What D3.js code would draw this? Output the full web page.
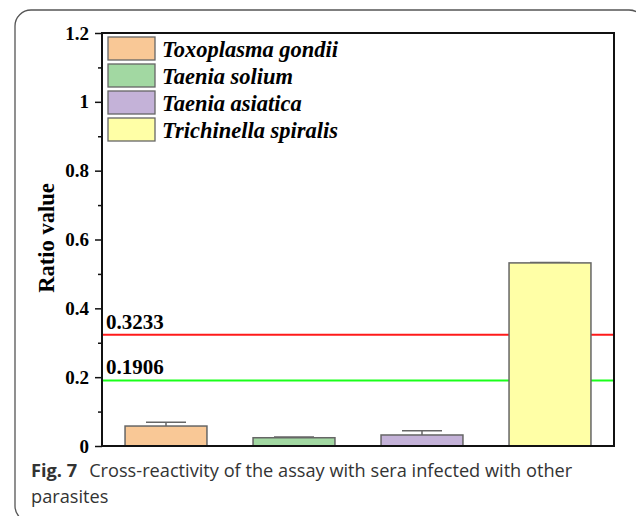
<!DOCTYPE html>
<html><head><meta charset="utf-8">
<script src="https://cdn.jsdelivr.net/npm/d3@7"></script>
<style>html,body{margin:0;padding:0;background:#fff;}</style>
</head><body>
<svg id="chart" width="636" height="516"></svg>
<script>
const categories = ["Toxoplasma gondii", "Taenia solium", "Taenia asiatica", "Trichinella spiralis"];
const values = [0.058, 0.024, 0.032, 0.532];
const errors = [0.011, 0.002, 0.012, 0.001];
const colors = ["#F9C896", "#A2D8A2", "#C4B2D8", "#FFFFA6"];
const yTicks = [0, 0.2, 0.4, 0.6, 0.8, 1, 1.2];
const yTickLabels = ["0", "0.2", "0.4", "0.6", "0.8", "1", "1.2"];
const minorTicks = [0.1, 0.3, 0.5, 0.7, 0.9, 1.1];
const cutoffs = [0.3233, 0.1906];
const cutoffLabels = ["0.3233", "0.1906"];
const cutoffColors = ["#ff1a1a", "#1aff1a"];

const svg = d3.select("#chart");
const L = 102, R = 614, T = 33, B = 446;
const serif = "Liberation Serif, Times New Roman, serif";

// outer frame
svg.append("rect").attr("x", 15).attr("y", 10).attr("width", 630).attr("height", 512)
  .attr("rx", 16).attr("ry", 16).attr("fill", "none").attr("stroke", "#555").attr("stroke-width", 1.3);

const x = d3.scaleBand().domain(categories).range([L, R]).paddingInner(0.36).paddingOuter(0.18);
const y = d3.scaleLinear().domain([0, 1.2]).range([B, T]);

// cutoff lines
svg.selectAll(".cut").data(cutoffs).enter().append("line")
  .attr("x1", L).attr("x2", R).attr("y1", d => y(d)).attr("y2", d => y(d))
  .attr("stroke", (d, i) => cutoffColors[i]).attr("stroke-width", 2);
svg.selectAll(".cutlab").data(cutoffs).enter().append("text")
  .attr("x", 106).attr("y", d => y(d) - 6)
  .attr("font-family", serif).attr("font-weight", "bold")
  .attr("font-size", 21).attr("fill", "#000").text((d, i) => cutoffLabels[i]);

// error bars
const eg = svg.append("g").attr("stroke", "#666").attr("stroke-width", 1.5);
categories.forEach((c, i) => {
  const cx = x(c) + x.bandwidth() / 2;
  eg.append("line").attr("x1", cx).attr("x2", cx).attr("y1", y(values[i])).attr("y2", y(values[i] + errors[i]));
  eg.append("line").attr("x1", cx - 20).attr("x2", cx + 20).attr("y1", y(values[i] + errors[i])).attr("y2", y(values[i] + errors[i]));
});

// bars
svg.selectAll(".bar").data(values).enter().append("rect")
  .attr("x", (d, i) => x(categories[i])).attr("width", x.bandwidth())
  .attr("y", d => y(d)).attr("height", d => B - y(d))
  .attr("fill", (d, i) => colors[i]).attr("stroke", "#666").attr("stroke-width", 1.5);

// plot frame
svg.append("rect").attr("x", L).attr("y", T).attr("width", R - L).attr("height", B - T)
  .attr("fill", "none").attr("stroke", "#111").attr("stroke-width", 2);

// y axis
const yAxis = d3.axisLeft(y).tickValues(yTicks).tickFormat((d, i) => yTickLabels[i]).tickSize(7).tickPadding(6);
const ga = svg.append("g").attr("transform", `translate(${L},0)`).call(yAxis);
ga.select(".domain").remove();
ga.selectAll("line").attr("stroke", "#111").attr("stroke-width", 1.5);
ga.selectAll("text").attr("font-family", serif)
  .attr("font-weight", "bold").attr("font-size", 19).attr("fill", "#000");
const gm = svg.append("g").attr("transform", `translate(${L},0)`)
  .call(d3.axisLeft(y).tickValues(minorTicks).tickFormat("").tickSize(4));
gm.select(".domain").remove();
gm.selectAll("line").attr("stroke", "#111").attr("stroke-width", 1.5);

// y title
svg.append("text").attr("transform", "translate(54,238) rotate(-90)").attr("text-anchor", "middle")
  .attr("font-family", serif).attr("font-weight", "bold")
  .attr("font-size", 22.5).attr("fill", "#000").text("Ratio value");

// legend
const lg = svg.append("g");
categories.forEach((c, i) => {
  const yy = 37 + i * 27;
  lg.append("rect").attr("x", 108).attr("y", yy).attr("width", 47).attr("height", 23)
    .attr("fill", colors[i]).attr("stroke", "#666").attr("stroke-width", 1.3);
  lg.append("text").attr("x", 162).attr("y", yy + 19.5)
    .attr("font-family", serif).attr("font-weight", "bold")
    .attr("font-style", "italic").attr("font-size", 22.5).attr("fill", "#000").text(c);
});

// caption
const cap = svg.append("text").attr("x", 31).attr("y", 477)
  .attr("font-family", "Open Sans, Noto Sans, sans-serif").attr("font-size", 18.2).attr("fill", "#333");
cap.append("tspan").attr("font-weight", "bold").text("Fig. 7");
cap.append("tspan").attr("dx", 12).text("Cross-reactivity of the assay with sera infected with other");
svg.append("text").attr("x", 31).attr("y", 503)
  .attr("font-family", "Open Sans, Noto Sans, sans-serif").attr("font-size", 18.2).attr("fill", "#333").text("parasites");
</script>
</body></html>
